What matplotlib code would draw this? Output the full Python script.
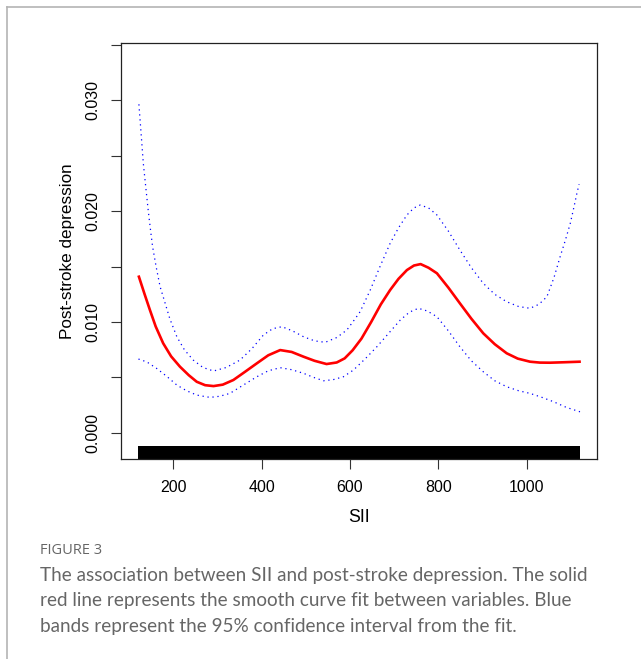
import numpy as np
import matplotlib.pyplot as plt
from matplotlib.lines import Line2D

#%% Values

# smooth curve fit (red)
fit_x = [122, 135, 147, 160, 177, 195, 215, 235, 253, 272, 291, 312, 336,
         362, 389, 415, 442, 468, 495, 520, 547, 570, 588, 606, 626, 648,
         670, 691, 710, 729, 745, 760, 778, 797, 823, 849, 875, 902, 928,
         955, 980, 1008, 1030, 1053, 1085, 1120]
fit_y = [0.01409, 0.01250, 0.01108, 0.00960, 0.00808, 0.00690, 0.00597,
         0.00520, 0.00461, 0.00430, 0.00422, 0.00435, 0.00477, 0.00550,
         0.00627, 0.00700, 0.00747, 0.00730, 0.00687, 0.00650, 0.00621,
         0.00635, 0.00672, 0.00745, 0.00850, 0.01000, 0.01160, 0.01289,
         0.01390, 0.01469, 0.01510, 0.01523, 0.01490, 0.01440, 0.01310,
         0.01169, 0.01030, 0.00898, 0.00800, 0.00718, 0.00670, 0.00642,
         0.00634, 0.00633, 0.00637, 0.00642]

# upper 95% band
upper_x = [122, 127, 132, 138, 143, 148, 153, 161, 170, 177, 192, 208, 225,
           245, 267, 291, 320, 351, 378, 404, 425, 446, 470, 495, 520, 544,
           570, 593, 610, 623, 646, 668, 691, 710, 729, 745, 759, 778, 797,
           823, 849, 875, 902, 928, 955, 982, 1008, 1028, 1046, 1062, 1076,
           1088, 1099, 1108, 1114, 1119]
upper_y = [0.02965, 0.02700, 0.02432, 0.02200, 0.02011, 0.01840, 0.01680,
           0.01500, 0.01319, 0.01228, 0.01030, 0.00867, 0.00750, 0.00657,
           0.00590, 0.00558, 0.00590, 0.00657, 0.00760, 0.00883, 0.00940,
           0.00958, 0.00920, 0.00867, 0.00830, 0.00817, 0.00860, 0.00928,
           0.01020, 0.01093, 0.01289, 0.01500, 0.01710, 0.01850, 0.01966,
           0.02030, 0.02056, 0.02030, 0.01966, 0.01820, 0.01650, 0.01490,
           0.01349, 0.01250, 0.01183, 0.01140, 0.01124, 0.01160, 0.01228,
           0.01400, 0.01589, 0.01740, 0.01890, 0.02050, 0.02162, 0.02243]

# lower 95% band
lower_x = [121, 140, 162, 185, 208, 230, 253, 268, 283, 305, 328, 358, 389,
           415, 442, 468, 495, 518, 540, 562, 585, 608, 635, 661, 688, 714,
           735, 755, 775, 797, 823, 849, 875, 902, 928, 955, 982, 1008, 1035,
           1061, 1090, 1121]
lower_y = [0.00666, 0.00640, 0.00582, 0.00510, 0.00431, 0.00380, 0.00341,
           0.00330, 0.00320, 0.00330, 0.00356, 0.00430, 0.00506, 0.00560,
           0.00588, 0.00570, 0.00537, 0.00500, 0.00470, 0.00480, 0.00506,
           0.00567, 0.00670, 0.00777, 0.00900, 0.01018, 0.01090, 0.01124,
           0.01100, 0.01048, 0.00920, 0.00777, 0.00650, 0.00551, 0.00470,
           0.00416, 0.00380, 0.00356, 0.00320, 0.00281, 0.00230, 0.00190]

# range of SII observations (rug)
rug_range = [119, 1121]

xticks = [200, 400, 600, 800, 1000]
yticks = [0.000, 0.005, 0.010, 0.015, 0.020, 0.025, 0.030, 0.035]
ytick_labels = ['0.000', '', '0.010', '', '0.020', '', '0.030', '']

caption_title = 'FIGURE 3'
caption = ('The association between SII and post-stroke depression. The solid\n'
           'red line represents the smooth curve fit between variables. Blue\n'
           'bands represent the 95% confidence interval from the fit.')

#%% Plot

plt.rcParams['font.family'] = ['Liberation Sans', 'DejaVu Sans']

fig = plt.figure(figsize=(6.41, 6.59), dpi=100)
ax = fig.add_axes([0.1888, 0.3035, 0.7426, 0.6312])

ax.plot(upper_x, upper_y, color='#0000ff', lw=0.9, ls=(0, (1, 3)))
ax.plot(lower_x, lower_y, color='#0000ff', lw=0.9, ls=(0, (1, 3)))
ax.plot(fit_x, fit_y, color='#ff0000', lw=1.9)
ax.axvspan(rug_range[0], rug_range[1], ymin=0, ymax=0.031, color='black', lw=0)

ax.set_xlim(81.5, 1159.6)
ax.set_ylim(-0.00236, 0.03518)
ax.set_xticks(xticks)
ax.set_yticks(yticks)
ax.set_yticklabels(ytick_labels, rotation=90, va='center')
ax.tick_params(axis='both', length=7, width=0.8, color='#333333', labelsize=11.5)
ax.tick_params(axis='x', pad=8)
ax.tick_params(axis='y', pad=8)
for s in ax.spines.values():
    s.set_linewidth(0.9)
    s.set_color('#222222')

ax.set_xlabel('SII', fontsize=12.8)
ax.xaxis.set_label_coords(0.5, -0.12)
ax.set_ylabel('Post-stroke depression', fontsize=12.3)
ax.yaxis.set_label_coords(-0.0966, 0.5)

# outer frame of the figure panel
fig.add_artist(Line2D([7 / 641, 7 / 641], [0, 1 - 7 / 659], color='#b4b4b4', lw=1.2))
fig.add_artist(Line2D([7 / 641, 1], [1 - 7 / 659, 1 - 7 / 659], color='#b4b4b4', lw=1.2))

fig.text(40 / 641, 1 - 551 / 659, caption_title, fontsize=10.5, color='#666666',
         family='Open Sans', va='center')
fig.text(40 / 641, 1 - 567 / 659, caption, fontsize=13.6, color='#666666',
         family='Lato', va='top', linespacing=1.6)

plt.savefig('out.png', dpi=100)
